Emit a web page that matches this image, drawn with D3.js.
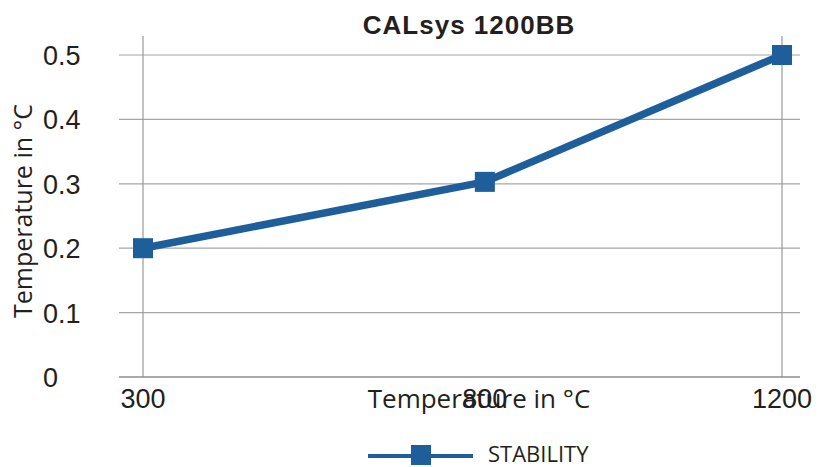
<!DOCTYPE html>
<html>
<head>
<meta charset="utf-8">
<script src="https://cdn.jsdelivr.net/npm/d3@7"></script>
<style>
  html, body { margin: 0; padding: 0; background: #fff; }
  svg { display: block; }
</style>
</head>
<body>
<svg id="chart" width="819" height="467"></svg>
<script>
// ---- data ----
const categories = [300, 800, 1200];
const stability = [0.2, 0.303, 0.5];
const yTicks = [0, 0.1, 0.2, 0.3, 0.4, 0.5];
const xTickLabels = ["300", "800", "1200"];
const title = "CALsys 1200BB";
const xTitle = "Temperature in °C";
const yTitle = "Temperature in °C";
const seriesName = "STABILITY";

// ---- layout ----
const W = 819, H = 467;
const plot = { left: 119, right: 800, top: 55, bottom: 377 };
const innerL = 143, innerR = 782;
const lineColor = "#1d5e9b";
const textColor = "#231f20";

const svg = d3.select("#chart");

const x = d3.scaleLinear()
  .domain(categories)
  .range([innerL, innerL + (innerR - innerL) * 0.535, innerR]);
const y = d3.scaleLinear().domain([0, 0.5]).range([plot.bottom, plot.top]);

// horizontal gridlines
svg.append("g").selectAll("line").data(yTicks.filter(d => d > 0)).join("line")
  .attr("x1", plot.left).attr("x2", plot.right)
  .attr("y1", d => y(d)).attr("y2", d => y(d))
  .attr("stroke", "#a6a6a6").attr("stroke-width", 1.2);

// vertical lines at first and last category
svg.append("g").selectAll("line").data([categories[0], categories[categories.length - 1]]).join("line")
  .attr("x1", d => x(d)).attr("x2", d => x(d))
  .attr("y1", y(0.5) - 19).attr("y2", plot.bottom)
  .attr("stroke", "#999").attr("stroke-width", 1.2);

// baseline
svg.append("line")
  .attr("x1", plot.left).attr("x2", plot.right)
  .attr("y1", y(0)).attr("y2", y(0))
  .attr("stroke", "#8c8c8c").attr("stroke-width", 1.4);

// y tick labels
svg.append("g").selectAll("text").data(yTicks).join("text")
  .attr("x", 43).attr("y", d => y(d) + 1)
  .attr("dominant-baseline", "central")
  .attr("font-family", "Liberation Sans, Arial, sans-serif")
  .attr("font-size", 27).attr("fill", textColor)
  .text(d => d === 0 ? "0" : d3.format(".1f")(d));

// x axis title (drawn before tick labels, they overlap in the reference)
svg.append("text")
  .attr("x", 479).attr("y", 408)
  .attr("text-anchor", "middle")
  .attr("font-family", "Open Sans, sans-serif")
  .attr("font-size", 26).attr("fill", textColor)
  .text(xTitle);

// x tick labels
svg.append("g").selectAll("text").data(categories).join("text")
  .attr("x", d => x(d)).attr("y", 408)
  .attr("text-anchor", "middle")
  .attr("font-family", "Liberation Sans, Arial, sans-serif")
  .attr("font-size", 27).attr("fill", textColor)
  .text((d, i) => xTickLabels[i]);

// y axis title
svg.append("text")
  .attr("transform", "translate(32,211) rotate(-90)")
  .attr("text-anchor", "middle")
  .attr("font-family", "Open Sans, sans-serif")
  .attr("font-size", 25).attr("fill", textColor)
  .text(yTitle);

// title
svg.append("text")
  .attr("x", 469).attr("y", 34)
  .attr("text-anchor", "middle")
  .attr("font-family", "Liberation Sans, Arial, sans-serif")
  .attr("font-weight", "bold")
  .attr("letter-spacing", 1)
  .attr("font-size", 26).attr("fill", textColor)
  .text(title);

// series line
const pts = categories.map((c, i) => [c, stability[i]]);
svg.append("path")
  .datum(pts)
  .attr("d", d3.line().x(d => x(d[0])).y(d => y(d[1])))
  .attr("fill", "none")
  .attr("stroke", lineColor)
  .attr("stroke-width", 7.5)
  .attr("stroke-linejoin", "round");

// markers
const ms = 20;
svg.append("g").selectAll("rect").data(pts).join("rect")
  .attr("x", d => x(d[0]) - ms / 2).attr("y", d => y(d[1]) - ms / 2)
  .attr("width", ms).attr("height", ms)
  .attr("fill", lineColor);

// legend
const lg = svg.append("g");
lg.append("line")
  .attr("x1", 368).attr("x2", 473).attr("y1", 456).attr("y2", 456)
  .attr("stroke", lineColor).attr("stroke-width", 4);
lg.append("rect")
  .attr("x", 411).attr("y", 445).attr("width", 20).attr("height", 20)
  .attr("fill", lineColor);
lg.append("text")
  .attr("x", 488).attr("y", 462)
  .attr("font-family", "Open Sans, sans-serif")
  .attr("font-size", 22).attr("fill", textColor)
  .text(seriesName);
</script>
</body>
</html>
